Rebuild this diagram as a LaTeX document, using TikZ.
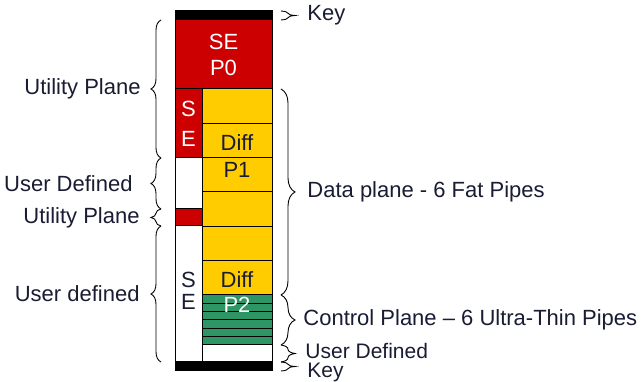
\documentclass[tikz,border=0pt]{standalone}
\usepackage{fontspec}
\setmainfont{Liberation Sans}
\usetikzlibrary{decorations.pathreplacing}

\definecolor{utilred}{RGB}{204,0,0}
\definecolor{pipeyellow}{RGB}{255,204,0}
\definecolor{pipegreen}{RGB}{46,150,100}
\definecolor{labeltext}{RGB}{25,28,50}

\begin{document}
\begin{tikzpicture}[x=1pt,y=-1pt,
	every node/.style={font=\fontsize{22}{26}\selectfont,inner sep=1pt,text=labeltext},
	blk/.style={draw,line width=1pt,inner sep=0pt,outer sep=0pt,anchor=north west},
	fat/.style={blk,fill=pipeyellow,minimum width=70pt,minimum height=34.33pt},
	thin/.style={blk,fill=pipegreen,minimum width=70pt,minimum height=8.33pt},
	keybar/.style={blk,fill=black,minimum width=97pt,minimum height=9pt},
	tight/.style={inner sep=0pt,font=\fontsize{21}{24}\selectfont},
	lbrace/.style={decorate,decoration={brace,amplitude=10pt},line width=0.9pt},
	rbrace/.style={decorate,decoration={brace,amplitude=14pt},line width=0.9pt}]

\useasboundingbox (0,0) rectangle (641,382);

% the frame, top to bottom
\node[keybar] (keyt) at (175,11) {};
\node[blk,fill=utilred,minimum width=97pt,minimum height=69pt,text=white,align=center] (p0) at (175,20) {SE\\P0};

% left column
\node[blk,fill=utilred,minimum width=27pt,minimum height=69pt,text=white,align=center] (sel) at (175,89) {S\\[4pt]E};
\node[blk,fill=white,minimum width=27pt,minimum height=51pt] (ud1) at (175,158) {};
\node[blk,fill=utilred,minimum width=27pt,minimum height=17pt] (up2) at (175,209) {};
\node[blk,fill=white,minimum width=27pt,minimum height=136pt,align=center] (ud2) at (175,226) {};
\node[align=center] (se2) at (188.5,291) {S\\[-4pt]E};

% fat pipes and thin pipes
\foreach \i in {1,...,6}
	\node[fat] (f\i) at (202,{89+34.33*(\i-1)}) {};
\foreach \i in {1,...,6}
	\node[thin] (t\i) at (202,{295+8.33*(\i-1)}) {};
\node[blk,fill=white,minimum width=70pt,minimum height=17pt] (udb) at (202,345) {};
\node[keybar] (keyb) at (175,362) {};

\node (diff1) at (237,143) {Diff};
\node (p1) at (237,170) {P1};
\node (diff2) at (237,280) {Diff};
\node[text=white] (p2) at (237,305) {P2};

% braces on the left
\draw[lbrace] ([xshift=-14pt]sel.south west) -- ([xshift=-14pt]p0.north west)
	node[midway,left=19pt] (lutil1) {Utility Plane};
\draw[lbrace] ([xshift=-14pt]ud1.south west) -- ([xshift=-14pt]ud1.north west)
	node[midway,left=27pt] (luser1) {User Defined};
\draw[lbrace] ([xshift=-14pt]up2.south west) -- ([xshift=-14pt]up2.north west)
	node[midway,left=20pt] (lutil2) {Utility Plane};
\draw[lbrace] ([xshift=-14pt]ud2.south west) -- ([xshift=-14pt]ud2.north west)
	node[midway,left=20pt] (luser2) {User defined};

% braces on the right
\draw[rbrace] ([xshift=9pt]keyt.north east) -- ([xshift=9pt]keyt.south east)
	node[midway,right=25pt] (lkey1) {Key};
\draw[rbrace] ([xshift=9pt]f1.north east) -- ([xshift=9pt]f6.south east)
	node[midway,right=25pt] (ldata) {Data plane - 6 Fat Pipes};
\draw[rbrace] ([xshift=9pt]t1.north east) -- ([xshift=9pt]t6.south east)
	node[midway,right=21pt] (lctrl) {Control Plane -- 6 Ultra-Thin Pipes};
\draw[rbrace] ([xshift=9pt]udb.north east) -- ([xshift=9pt]udb.south east)
	node[midway,right=24pt,yshift=3pt,tight] (luser3) {User Defined};
\draw[rbrace] ([xshift=9pt]keyb.north east) -- ([xshift=9pt]keyb.south east)
	node[midway,right=26pt,yshift=-6pt,tight] (lkey2) {Key};

\end{tikzpicture}
\end{document}
